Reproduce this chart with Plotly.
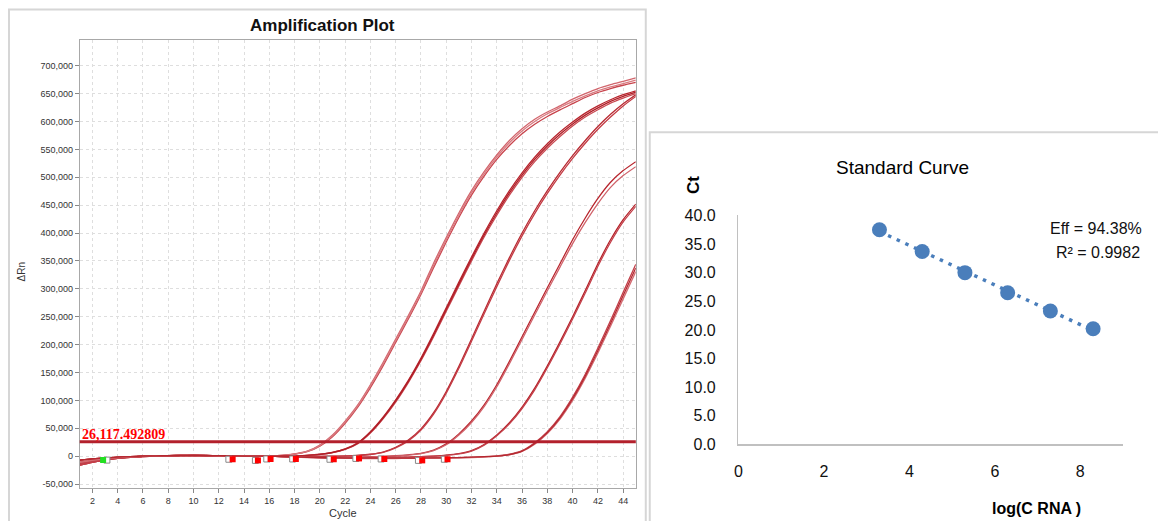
import plotly.graph_objects as go

# ---------------- Amplification plot data ----------------
cycles = list(range(1, 46))
threshold = 26117.492809
threshold_label = "26,117.492809"

A1 = [-14000, -9500, -6000, -3200, -1600, -500, 300, 800, 1100, 1200, 1000, 700, 400, 300, 400, 700,
      1500, 4000, 9000, 20000, 38000, 63000, 92000, 128000, 168000, 210000, 252000, 296000, 346000, 392000,
      436000, 476000, 510000, 540000, 566000, 587000, 604000, 617000, 628000, 640000, 650000, 659000, 666000, 672000, 678000]
A2 = [-11000, -7500, -4800, -2600, -1200, -300, 400, 900, 1300, 1300, 1100, 800, 500, 300, 400, 600,
      1200, 3500, 8000, 18000, 35000, 59000, 88000, 123000, 162000, 204000, 246000, 290000, 338000, 384000,
      428000, 468000, 502000, 532000, 557000, 578000, 595000, 609000, 621000, 632000, 643000, 652000, 659000, 665000, 670000]
A3 = [-7000, -5000, -3200, -1800, -800, 0, 600, 1000, 1400, 1400, 1200, 900, 600, 400, 450, 650,
      1400, 3800, 8500, 19000, 36500, 61000, 90000, 126000, 165000, 207000, 249000, 293000, 342000, 388000,
      432000, 472000, 506000, 536000, 562000, 583000, 600000, 614000, 625000, 636000, 646000, 655000, 662000, 668000, 674000]
B1 = [-16000, -11000, -7000, -3800, -1900, -700, 200, 700, 1000, 1100, 900, 600, 300, 100, -100, -300,
      0, 500, 1500, 3500, 7000, 13000, 24000, 44000, 70000, 101000, 136000, 176000, 220000, 266000,
      312000, 357000, 400000, 440000, 476000, 508000, 536000, 560000, 581000, 599000, 615000, 628000, 639000, 648000, 655000]
B2 = [-14000, -9500, -6000, -3200, -1600, -500, 300, 800, 1100, 1200, 1000, 700, 400, 200, 0, -200,
      -200, 300, 1200, 3000, 6200, 12000, 22500, 41500, 67000, 97000, 132000, 171000, 214000, 260000,
      305000, 350000, 393000, 432000, 468000, 500000, 528000, 552000, 573000, 592000, 608000, 621000, 633000, 642000, 650000]
B3 = [-11000, -7500, -4800, -2600, -1200, -300, 400, 900, 1300, 1300, 1100, 800, 500, 300, 100, -100,
      -100, 400, 1300, 3200, 6600, 12500, 23200, 42800, 68500, 99000, 134000, 173500, 217000, 263000,
      308500, 353500, 396500, 436000, 472000, 504000, 532000, 556000, 577000, 595500, 611500, 624500, 636000, 645000, 652500]
C1 = [-7000, -5000, -3200, -1800, -800, 0, 600, 1000, 1400, 1400, 1200, 900, 600, 300, 100, 0,
      -300, -500, -500, -300, 0, 500, 1500, 3500, 7500, 16000, 29000, 49000, 78000, 116000,
      161000, 210000, 260000, 309000, 356000, 400000, 440000, 476000, 509000, 539000, 566000, 591000, 613000, 632000, 648000]
C2 = [-16000, -11000, -7000, -3800, -1900, -700, 200, 700, 1000, 1100, 900, 600, 300, 100, -100, -300,
      -400, -600, -600, -400, -100, 300, 1200, 3000, 6800, 15000, 27500, 47000, 75500, 113000,
      157500, 206000, 255500, 304000, 351000, 395000, 435000, 471000, 504000, 534000, 561000, 586000, 608000, 628000, 645000]
D1 = [-14000, -9500, -6000, -3200, -1600, -500, 300, 800, 1100, 1200, 1000, 700, 400, 200, 0, -200,
      -500, -1000, -1500, -1800, -2000, -1800, -1500, -1000, -300, 800, 2500, 5000, 11000, 22000,
      40000, 63000, 92000, 128000, 170000, 214000, 258000, 302000, 345000, 388000, 427000, 462000, 491000, 512000, 528000]
D2 = [-11000, -7500, -4800, -2600, -1200, -300, 400, 900, 1300, 1300, 1100, 800, 500, 300, 100, -100,
      -600, -1100, -1600, -2000, -2200, -2000, -1700, -1200, -500, 500, 2000, 4500, 10000, 20500,
      38000, 60500, 89000, 124500, 166000, 209500, 253000, 296500, 339000, 381000, 419000, 453000, 482000, 503000, 519000]
E1 = [-7000, -5000, -3200, -1800, -800, 0, 600, 1000, 1400, 1400, 1200, 900, 600, 300, 100, 0,
      -600, -1200, -1800, -2200, -2500, -2600, -2600, -2500, -2300, -2000, -1500, -800, 200, 1800,
      4500, 10000, 21000, 38000, 60000, 88000, 122000, 162000, 205000, 250000, 297000, 345000, 388000, 424000, 452000]
E2 = [-16000, -11000, -7000, -3800, -1900, -700, 200, 700, 1000, 1100, 900, 600, 300, 100, -100, -300,
      -700, -1300, -2000, -2400, -2700, -2800, -2800, -2700, -2500, -2200, -1700, -1000, 0, 1500,
      4000, 9200, 19800, 36500, 58000, 85500, 119000, 158500, 201000, 246000, 292500, 340500, 383500, 420000, 448000]
F1 = [-14000, -9500, -6000, -3200, -1600, -500, 300, 800, 1100, 1200, 1000, 700, 400, 200, 0, -200,
      -800, -1500, -2200, -2800, -3200, -3500, -3700, -3800, -3800, -3700, -3600, -3400, -3200, -3000,
      -2600, -2000, -1000, 500, 3500, 10000, 24000, 44000, 71000, 106000, 147000, 194000, 243000, 294000, 344000]
F2 = [-11000, -7500, -4800, -2600, -1200, -300, 400, 900, 1300, 1300, 1100, 800, 500, 300, 100, -100,
      -900, -1700, -2500, -3100, -3600, -3900, -4100, -4200, -4200, -4100, -4000, -3800, -3600, -3300,
      -2900, -2300, -1400, 0, 2500, 8500, 21500, 40500, 66500, 100000, 140000, 185000, 233000, 282000, 331000]
F3 = [-7000, -5000, -3200, -1800, -800, 0, 600, 1000, 1400, 1400, 1200, 900, 600, 300, 100, 0,
      -700, -1300, -2000, -2600, -3000, -3300, -3500, -3600, -3600, -3500, -3400, -3200, -3000, -2800,
      -2400, -1800, -900, 200, 3000, 9200, 22800, 42200, 68800, 103000, 143500, 189500, 238000, 288000, 337500]

curves = {"A1": A1, "A2": A2, "A3": A3, "B1": B1, "B2": B2, "B3": B3, "C1": C1, "C2": C2,
          "D1": D1, "D2": D2, "E1": E1, "E2": E2, "F1": F1, "F2": F2, "F3": F3}
curve_colors = {"A1": "#d2666d", "A2": "#c8444c", "A3": "#d97a80", "B1": "#b8262e", "B2": "#c94a52",
                "B3": "#b01e27", "C1": "#b82a32", "C2": "#c43c45", "D1": "#b8262e", "D2": "#d0626a",
                "E1": "#b42229", "E2": "#c4404a", "F1": "#c2404a", "F2": "#d46c73", "F3": "#b52830"}

# baseline markers (start: green, end: red + open square)
base_start_cycle = [2.85]
base_start_val = [-7000]
base_end_cycle = [13.1, 15.1, 16.1, 18.1, 21.1, 23.1, 25.1, 28.1, 30.1]
base_end_val = [-5500, -7500, -5000, -5000, -5500, -4000, -5000, -7500, -5500]
base_open_cycle = [12.8, 14.9, 15.8, 17.85, 20.8, 22.85, 24.85, 27.8, 29.85]

y_ticks = [-50000, 0, 50000, 100000, 150000, 200000, 250000, 300000, 350000, 400000,
           450000, 500000, 550000, 600000, 650000, 700000]
y_ticktext = ["-50,000", "0", "50,000", "100,000", "150,000", "200,000", "250,000", "300,000",
              "350,000", "400,000", "450,000", "500,000", "550,000", "600,000", "650,000", "700,000"]
x_ticks = list(range(2, 46, 2))

# ---------------- Standard curve data ----------------
log_c = [3.3, 4.3, 5.3, 6.3, 7.3, 8.3]
ct = [37.5, 33.7, 30.0, 26.5, 23.3, 20.2]
eff_text = "Eff = 94.38%"
r2_text = "R² = 0.9982"

# page geometry (layout helpers map target-pixel positions to paper fractions)
W, H = 1158, 531
TOP, VS = 8, 0.966


def px(x):
    return x / W


def py(y):
    return 1 - ((y - TOP) / VS) / H


fig = go.Figure()

for name, vals in curves.items():
    fig.add_trace(go.Scatter(x=cycles, y=vals, mode="lines", xaxis="x", yaxis="y",
                             line=dict(color=curve_colors[name], width=1.3, shape="spline", smoothing=0.6),
                             hoverinfo="skip", showlegend=False))

fig.add_trace(go.Scatter(x=base_open_cycle, y=base_end_val, mode="markers", xaxis="x", yaxis="y",
                         marker=dict(symbol="square", size=6, color="white", line=dict(color="#8a8a8a", width=1)),
                         showlegend=False))
fig.add_trace(go.Scatter(x=base_end_cycle, y=base_end_val, mode="markers", xaxis="x", yaxis="y",
                         marker=dict(symbol="square", size=6, color="#ff0000", line=dict(width=0)),
                         showlegend=False))
fig.add_trace(go.Scatter(x=[c + 0.3 for c in base_start_cycle], y=base_start_val, mode="markers", xaxis="x", yaxis="y",
                         marker=dict(symbol="square", size=6, color="white", line=dict(color="#8a8a8a", width=1)),
                         showlegend=False))
fig.add_trace(go.Scatter(x=base_start_cycle, y=base_start_val, mode="markers", xaxis="x", yaxis="y",
                         marker=dict(symbol="square", size=6, color="#22e022", line=dict(width=0)),
                         showlegend=False))

# Standard curve: linear trendline (least squares) + points
n = len(log_c)
mx = sum(log_c) / n
my = sum(ct) / n
slope = sum((a - mx) * (b - my) for a, b in zip(log_c, ct)) / sum((a - mx) ** 2 for a in log_c)
intercept = my - slope * mx
trend_x = [min(log_c), max(log_c)]
trend_y = [intercept + slope * v for v in trend_x]
fig.add_trace(go.Scatter(x=trend_x, y=trend_y, mode="lines", xaxis="x2", yaxis="y2",
                         line=dict(color="#4a7ebb", width=3.5, dash="3.5px,6px"),
                         hoverinfo="skip", showlegend=False))
fig.add_trace(go.Scatter(x=log_c, y=ct, mode="markers", xaxis="x2", yaxis="y2",
                         marker=dict(size=15, color="#4a7ebb", line=dict(width=0)),
                         showlegend=False))

small = dict(family="Liberation Sans, Arial, sans-serif", size=9, color="#333333")
big = dict(family="Liberation Sans, Arial, sans-serif", size=16, color="#111111")


def note(text, x, y, font, **kw):
    d = dict(text=text, xref="paper", yref="paper", x=px(x), y=py(y),
             xanchor="center", yanchor="middle", showarrow=False, font=font)
    d.update(kw)
    return d


fig.update_layout(
    width=W, height=H,
    margin=dict(l=0, r=0, t=0, b=0),
    paper_bgcolor="white", plot_bgcolor="white",
    showlegend=False,
    xaxis=dict(domain=[px(76), px(634)], range=[1, 45], tickvals=x_ticks,
               ticks="outside", ticklen=4, tickcolor="#888888", tickfont=small,
               showline=True, linecolor="#a8a8a8", linewidth=1, mirror=True,
               showgrid=True, gridcolor="#dedede", griddash="3px,3px", gridwidth=1, zeroline=False),
    yaxis=dict(domain=[py(487), py(40)], range=[-57000, 746000], tickvals=y_ticks, ticktext=y_ticktext,
               ticks="outside", ticklen=4, tickcolor="#888888", tickfont=small,
               showline=True, linecolor="#a8a8a8", linewidth=1, mirror=True,
               showgrid=True, gridcolor="#dedede", griddash="3px,3px", gridwidth=1, zeroline=False),
    xaxis2=dict(domain=[px(737), px(1122.9)], range=[0, 9], tickvals=[0, 2, 4, 6, 8],
                anchor="y2", showline=True, linecolor="#c0c0c0", linewidth=1.5, ticks="",
                showgrid=False, zeroline=False, tickfont=big, ticklabelstandoff=12),
    yaxis2=dict(domain=[py(443.5), py(215)], range=[0, 40],
                tickvals=[0, 5, 10, 15, 20, 25, 30, 35, 40],
                ticktext=["0.0", "5.0", "10.0", "15.0", "20.0", "25.0", "30.0", "35.0", "40.0"],
                anchor="x2", showline=True, linecolor="#c0c0c0", linewidth=1.5, ticks="",
                showgrid=False, zeroline=False, tickfont=big, ticklabelstandoff=18),
    shapes=[
        dict(type="rect", xref="paper", yref="paper", x0=px(5), x1=px(644), y0=-0.02, y1=py(9.5),
             line=dict(color="#d6d6d6", width=2), fillcolor="rgba(0,0,0,0)", layer="below"),
        dict(type="rect", xref="paper", yref="paper", x0=px(648), x1=1.01, y0=-0.02, y1=py(132),
             line=dict(color="#d6d6d6", width=2), fillcolor="rgba(0,0,0,0)", layer="below"),
        dict(type="line", xref="x domain", yref="y", x0=0, x1=1, y0=threshold, y1=threshold,
             line=dict(color="#b3202c", width=3)),
    ],
    annotations=[
        note("<b>Amplification Plot</b>", 320, 25,
             dict(family="Liberation Sans, Arial, sans-serif", size=17, color="#111111")),
        note("ΔRn", 18, 271, dict(family="Liberation Sans, Arial, sans-serif", size=10, color="#333333"),
             textangle=-90),
        note("Cycle", 340, 512, dict(family="Liberation Sans, Arial, sans-serif", size=11, color="#333333")),
        dict(text="<b>" + threshold_label + "</b>", xref="x", yref="y", x=1, y=threshold,
             xanchor="left", yanchor="bottom", yshift=-2, showarrow=False,
             font=dict(family="Liberation Serif, Times New Roman, serif", size=14, color="#ff0000")),
        note("Standard Curve", 902, 167, dict(family="Liberation Sans, Arial, sans-serif", size=19, color="#000000")),
        note("<b>Ct</b>", 692, 185, dict(family="Liberation Sans, Arial, sans-serif", size=17, color="#000000"),
             textangle=-90),
        note("<b>log(C RNA )</b>", 1036, 507,
             dict(family="Liberation Sans, Arial, sans-serif", size=16, color="#000000")),
        note(eff_text, 1144, 228, big, xanchor="right"),
        note(r2_text, 1142, 252, big, xanchor="right"),
    ],
)

page_css = ("var s=document.createElement('style');"
            "s.textContent='html,body{margin:0!important;padding:0!important;overflow:hidden!important;}';"
            "document.head.appendChild(s);")

fig.write_html("out.html", config={"displayModeBar": False, "staticPlot": True}, post_script=page_css)
